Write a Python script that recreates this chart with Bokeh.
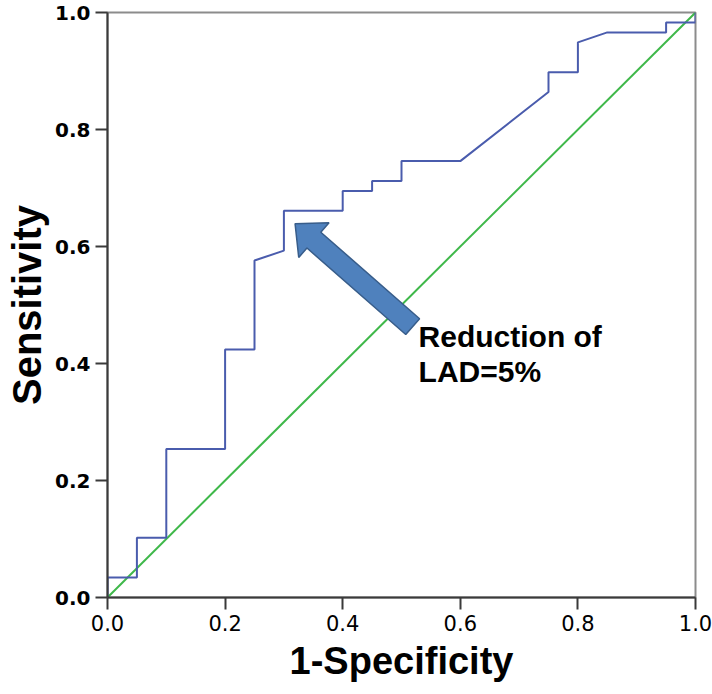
import numpy as np
from bokeh.plotting import figure
from bokeh.models import Range1d, FixedTicker, PrintfTickFormatter
from bokeh.core.properties import value
from bokeh.embed import file_html
from bokeh.resources import INLINE

# ROC curve (1-Specificity, Sensitivity)
fpr = [0.0, 0.0, 0.05, 0.05, 0.10, 0.10, 0.20, 0.20, 0.25, 0.25, 0.30, 0.30,
       0.40, 0.40, 0.45, 0.45, 0.50, 0.50, 0.60, 0.75, 0.75, 0.80, 0.80, 0.85,
       0.95, 0.95, 1.0, 1.0]
tpr = [0.0, 0.034, 0.034, 0.102, 0.102, 0.254, 0.254, 0.424, 0.424, 0.576, 0.593, 0.661,
       0.661, 0.695, 0.695, 0.712, 0.712, 0.746, 0.746, 0.864, 0.898, 0.898, 0.949, 0.966,
       0.966, 0.983, 0.983, 1.0]
# reference line
diag_x = [0.0, 1.0]
diag_y = [0.0, 1.0]
ticks = [0.0, 0.2, 0.4, 0.6, 0.8, 1.0]

# annotation
arrow_tip = (0.319, 0.639)
arrow_tail = (0.519, 0.463)
note_lines = ["Reduction of", "LAD=5%"]
note_x = 0.529
note_y = [0.447, 0.386]

FONT = "Liberation Sans"
TICK_FONT = "DejaVu Sans"
W_FRAME, H_FRAME = 588, 585
p = figure(width=712, height=694, output_backend="svg", toolbar_location=None,
           x_range=Range1d(0, 1), y_range=Range1d(0, 1),
           min_border_left=107, min_border_right=17, min_border_top=12, min_border_bottom=97)
p.grid.visible = False
p.outline_line_color = "#8c8c8c"
p.outline_line_width = 2
p.background_fill_color = "white"
p.border_fill_color = "white"

for ax in (p.xaxis[0], p.yaxis[0]):
    ax.ticker = FixedTicker(ticks=ticks)
    ax.formatter = PrintfTickFormatter(format="%.1f")
    ax.major_tick_out = 12
    ax.major_tick_in = 0
    ax.minor_tick_out = 0
    ax.minor_tick_in = 0
    ax.axis_line_width = 2
    ax.axis_line_color = "#3a3a3a"
    ax.major_tick_line_width = 2
    ax.major_tick_line_color = "#3a3a3a"
    ax.major_label_text_font = TICK_FONT
    ax.major_label_text_color = "black"
    ax.axis_label_text_font = FONT
    ax.axis_label_text_font_style = "bold"
    ax.axis_label_text_color = "black"

p.xaxis.major_label_text_font_size = "21px"
p.xaxis.major_label_standoff = 5
p.xaxis.axis_label = "1-Specificity"
p.xaxis.axis_label_text_font_size = "38px"
p.xaxis.axis_label_standoff = 6
p.yaxis.axis_label = "Sensitivity"
p.yaxis.axis_label_text_font_size = "40px"
p.yaxis.axis_label_standoff = 3
p.yaxis.major_label_text_font_size = "20px"
p.yaxis.major_label_text_font_style = "bold"
p.yaxis.major_label_standoff = 5

p.line(diag_x, diag_y, line_color="#3fb84a", line_width=2)
p.line(fpr, tpr, line_color="#4a5cad", line_width=2)

# block arrow built from tip/tail in pixel space
px = np.array([arrow_tip[0] * W_FRAME, arrow_tip[1] * H_FRAME])
pt = np.array([arrow_tail[0] * W_FRAME, arrow_tail[1] * H_FRAME])
u = (pt - px) / np.linalg.norm(pt - px)
n = np.array([-u[1], u[0]])
L = np.linalg.norm(pt - px)
head_len, head_hw, shaft_hw = 25.0, 23.0, 10.5
pts = [px,
       px + u * head_len + n * head_hw,
       px + u * head_len + n * shaft_hw,
       px + u * L + n * shaft_hw,
       px + u * L - n * shaft_hw,
       px + u * head_len - n * shaft_hw,
       px + u * head_len - n * head_hw]
ax_ = [q[0] / W_FRAME for q in pts]
ay_ = [q[1] / H_FRAME for q in pts]
p.patch(ax_, ay_, fill_color="#4f81bd", line_color="#385d8a", line_width=1.5)

p.text(x=[note_x] * len(note_lines), y=note_y, text=note_lines,
       text_font=value(FONT), text_font_style="bold", text_font_size="30px",
       text_color="black", text_baseline="alphabetic", text_align="left")

open("out.html", "w").write(file_html(p, INLINE))
